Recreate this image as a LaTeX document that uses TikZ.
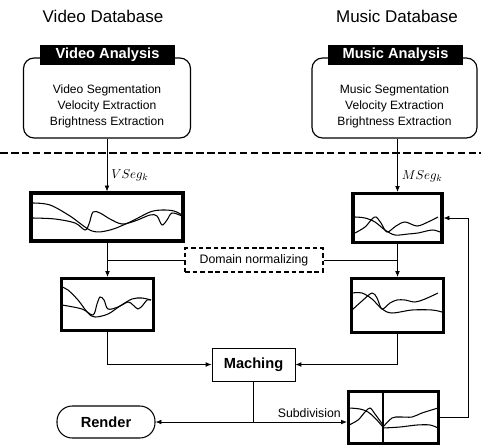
\documentclass[tikz,border=0pt]{standalone}
\usepackage{fontspec}
\setmainfont{Liberation Sans}
\usetikzlibrary{arrows.meta}

\begin{document}
\begin{tikzpicture}[x=0.03cm, y=-0.03cm,
	wire/.style={line width=0.6pt},
	arr/.style={wire, -{Latex[length=5pt, width=4pt]}},
	plotbox/.style={draw, line width=2.6pt, inner sep=0pt},
	anabox/.style={draw, line width=1pt, rounded corners=9pt, minimum height=2.4cm},
	head/.style={fill=black, text=white, inner sep=0pt, minimum width=4.05cm, minimum height=0.6cm, font=\bfseries\fontsize{12.5}{14}\selectfont},
	boxtext/.style={align=center, font=\fontsize{10.3}{13.6}\selectfont},
	curve/.style={line width=0.9pt, smooth, tension=0.55}]
	\useasboundingbox (0,0) rectangle (481,446);
	% Databases and analysis blocks:
	\node[font=\fontsize{14.5}{17}\selectfont] (vdb) at (103,16) {Video Database};
	\node[font=\fontsize{14.5}{17}\selectfont] (mdb) at (397,16) {Music Database};
	\node[anabox, minimum width=5.01cm] (vana) at (107,98) {};
	\node[head] (vhead) at (107.5,55) {Video Analysis};
	\node[boxtext] (vtxt) at (107,106) {Video Segmentation\\Velocity Extraction\\Brightness Extraction};
	\node[anabox, minimum width=4.95cm] (mana) at (394.5,98) {};
	\node[head] (mhead) at (395.5,55) {Music Analysis};
	\node[boxtext] (mtxt) at (394.5,106) {Music Segmentation\\Velocity Extraction\\Brightness Extraction};
	\draw[line width=2.4pt, dash pattern=on 6.5pt off 2.8pt] (0,153) -- (481,153);
	% Feature curves:
	\node[plotbox, minimum width=4.56cm, minimum height=1.44cm] (vplotA) at (107,217) {};
	\node[plotbox, minimum width=2.67cm, minimum height=1.47cm] (mplotA) at (397.5,218) {};
	\node[plotbox, minimum width=2.76cm, minimum height=1.56cm] (vplotB) at (107.5,304.5) {};
	\node[plotbox, minimum width=2.76cm, minimum height=1.62cm] (mplotB) at (397.5,305.5) {};
	\draw[curve] plot coordinates {(33,203) (50,205) (70,216) (92,231) (110,230) (130,222) (150,212) (162,210) (174,211) (182,215)};
	\draw[curve] plot coordinates {(33,218) (55,219) (75,223) (85,230) (89,224) (93,212) (100,213) (110,219) (122,224) (135,221) (150,215) (157,216) (162,225) (167,220) (172,213) (182,216)};
	\draw[curve] plot coordinates {(355,217) (365,218) (375,222) (385,230) (395,235) (408,234) (418,233) (432,230) (440,232)};
	\draw[curve] plot coordinates {(355,233) (365,227) (372,219) (376,217) (381,223) (387,232) (396,226) (405,222) (417,226) (428,222) (438,217)};
	\draw[curve] plot coordinates {(62,287) (68,290) (78,300) (88,313) (95,317) (108,314) (120,306) (132,299) (142,298) (151,300)};
	\draw[curve] plot coordinates {(62,305) (82,309) (93,315) (97,304) (100,297) (104,300) (108,309) (118,307) (128,302) (133,305) (138,309) (143,305) (147,300) (151,300)};
	\draw[curve] plot coordinates {(352,293) (362,293) (372,299) (382,309) (392,313) (412,310) (432,310) (442,312)};
	\draw[curve] plot coordinates {(352,310) (362,301) (372,293) (377,298) (382,309) (390,303) (397,300) (405,300) (415,302) (425,299) (438,293)};
	% Normalizing, matching, output:
	\node[draw, line width=1.1pt, dash pattern=on 4pt off 2.5pt, minimum width=4.14cm, minimum height=0.72cm, font=\fontsize{10.5}{12}\selectfont] (norm) at (254,260) {Domain normalizing};
	\node[draw, line width=0.8pt, minimum width=2.49cm, minimum height=0.99cm, font=\bfseries\fontsize{12.5}{14}\selectfont] (match) at (253.5,364.5) {Maching};
	\node[draw, line width=0.9pt, rounded corners=13pt, minimum width=2.94cm, minimum height=0.96cm, font=\bfseries\fontsize{12.5}{14}\selectfont] (render) at (106,422) {Render};
	\node[plotbox, minimum width=2.7cm, minimum height=1.56cm] (subd) at (393.5,417.5) {};
	\coordinate (cut) at (383,0);
	\draw[line width=2.4pt] (cut |- subd.north) -- (cut |- subd.south);
	\draw[curve] plot coordinates {(349,408) (360,409) (368,412) (375,418) (383,427)};
	\draw[curve] plot coordinates {(349,425) (358,420) (365,412) (370,408) (375,414) (383,425)};
	\draw[curve] plot coordinates {(383,427) (392,418) (400,417) (412,417) (422,413) (438,408)};
	\draw[curve] plot coordinates {(383,428) (400,427) (417,425) (430,425) (438,428)};
	% Wires:
	\draw[arr] (vplotA.north |- vana.south) -- (vplotA.north) node[pos=0.7, right, font=\fontsize{11}{12}\selectfont] {$VSeg_k$};
	\draw[arr] (mplotA.north |- mana.south) -- (mplotA.north) node[pos=0.7, right, font=\fontsize{11}{12}\selectfont] {$MSeg_k$};
	\draw[arr] (vplotA.south) -- (vplotB.north |- vplotA.south) -- (vplotB.north);
	\draw[arr] (mplotA.south) -- (mplotB.north);
	\draw[wire] (norm.west) -- (norm.west -| vplotB.north);
	\draw[wire] (norm.east) -- (norm.east -| mplotB.north);
	\draw[arr] (vplotB.south) |- (match.west);
	\draw[arr] (mplotB.south) |- (match.east);
	\coordinate (split) at (match.south |- render.east);
	\draw[wire] (match.south) -- (split);
	\draw[arr] (split) -- (render.east);
	\draw[arr] (split) -- (split -| subd.west) node[pos=1, above left, inner xsep=5pt, font=\fontsize{10.5}{12}\selectfont] {Subdivision};
	\draw[arr] (subd.east) -- ++(28,0) |- (mplotA.east);
\end{tikzpicture}
\end{document}
